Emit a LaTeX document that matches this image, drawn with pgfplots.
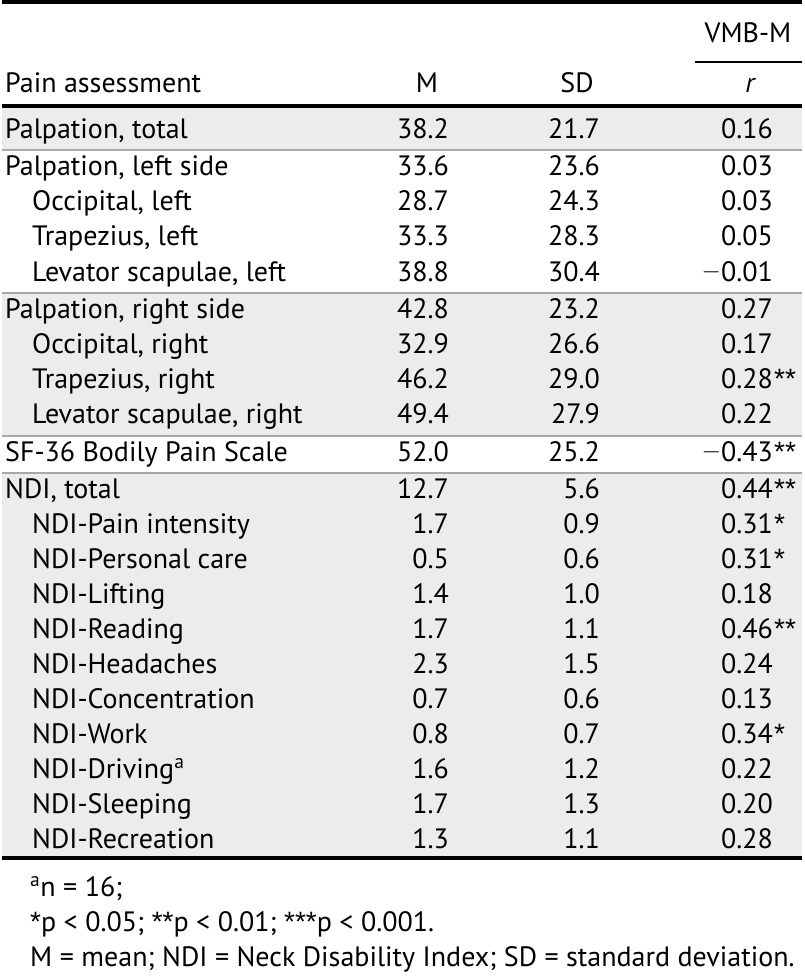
\documentclass[border=0pt]{standalone}
\usepackage{fontspec}
\setmainfont{PT Sans}
\newfontfamily\starfont{Liberation Sans}
\usepackage{pgfplots}
\usepackage{pgfplotstable}
\pgfplotsset{compat=1.18}
\definecolor{band}{HTML}{ECECEC}
\definecolor{sep}{HTML}{A8A8A8}
\newcommand\fs{\fontsize{28}{33}\selectfont}
\newcommand\st[1]{{\starfont #1}}
\newcommand\mns{\raisebox{0.09em}{$-$}}

\pgfplotstableread[col sep=semicolon,row sep=\\]{
y;x;label;m;sd;r\\
138;3;Palpation, total;38.2;21.7;0.16\\
175;3;Palpation, left side;33.6;23.6;0.03\\
210;30;Occipital, left;28.7;24.3;0.03\\
245;30;Trapezius, left;33.3;28.3;0.05\\
281;30;Levator scapulae, left;38.8;30.4;\mns0.01\\
318;3;Palpation, right side;42.8;23.2;0.27\\
353;30;Occipital, right;32.9;26.6;0.17\\
388;30;Trapezius, right;46.2;29.0;0.28\\
423;30;Levator scapulae, right;49.4;27.9;0.22\\
461;3;SF-36 Bodily Pain Scale;52.0;25.2;\mns0.43\\
498;3;NDI, total;12.7;5.6;0.44\\
533;30;NDI-Pain intensity;1.7;0.9;0.31\\
568;30;NDI-Personal care;0.5;0.6;0.31\\
603;30;NDI-Lifting;1.4;1.0;0.18\\
638;30;NDI-Reading;1.7;1.1;0.46\\
673;30;NDI-Headaches;2.3;1.5;0.24\\
708;30;NDI-Concentration;0.7;0.6;0.13\\
743;30;NDI-Work;0.8;0.7;0.34\\
778;30;NDI-Driving\textsuperscript{a};1.6;1.2;0.22\\
813;30;NDI-Sleeping;1.7;1.3;0.20\\
848;30;NDI-Recreation;1.3;1.1;0.28\\
}\rows

\pgfplotstableread[col sep=semicolon,row sep=\\]{
y;st\\
388;**\\
461;**\\
498;**\\
533;*\\
568;*\\
638;**\\
743;*\\
}\stars

\begin{document}
\begin{tikzpicture}
\begin{axis}[
  scale only axis, width=800pt, height=977pt,
  xmin=0, xmax=800, ymin=0, ymax=977, y dir=reverse,
  hide axis, clip=false,
  every node near coord/.append style={font=\fs, inner sep=0pt, text=black},
]
% page frame
\addplot[draw=none] coordinates {(0,0) (800,977)};
% bands
\addplot[fill=band, draw=none] coordinates {(0,107) (800,107) (800,150) (0,150)} -- cycle;
\addplot[fill=band, draw=none] coordinates {(0,293) (800,293) (800,436) (0,436)} -- cycle;
\addplot[fill=band, draw=none] coordinates {(0,473) (800,473) (800,858) (0,858)} -- cycle;
% separators
\addplot[sep, line width=1.6pt] coordinates {(0,150) (800,150)};
\addplot[sep, line width=1.6pt] coordinates {(0,293) (800,293)};
\addplot[sep, line width=1.6pt] coordinates {(0,436) (800,436)};
\addplot[sep, line width=1.6pt] coordinates {(0,473) (800,473)};
% black rules
\addplot[black, line width=4pt] coordinates {(0,2) (800,2)};
\addplot[black, line width=1.2pt] coordinates {(693,62) (800,62)};
\addplot[black, line width=3.5pt] coordinates {(0,106) (800,106)};
\addplot[black, line width=3.5pt] coordinates {(0,858) (800,858)};
% text columns
\addplot[draw=none, mark=none, nodes near coords, point meta=explicit symbolic,
  every node near coord/.append style={anchor=base west}]
  table[x=x, y=y, meta=label]{\rows};
\addplot[draw=none, mark=none, nodes near coords, point meta=explicit symbolic,
  every node near coord/.append style={anchor=base east}]
  table[x expr=447, y=y, meta=m]{\rows};
\addplot[draw=none, mark=none, nodes near coords, point meta=explicit symbolic,
  every node near coord/.append style={anchor=base east}]
  table[x expr=598, y=y, meta=sd]{\rows};
\addplot[draw=none, mark=none, nodes near coords, point meta=explicit symbolic,
  every node near coord/.append style={anchor=base east}]
  table[x expr=771, y=y, meta=r]{\rows};
\addplot[draw=none, mark=none, nodes near coords, point meta=explicit symbolic,
  every node near coord/.append style={anchor=base west, font=\fs\starfont}]
  table[x expr=772, y=y, meta=st]{\stars};
% header
\node[font=\fs, anchor=base, inner sep=0pt] at (axis cs:746,42) {VMB-M};
\node[font=\fs, anchor=base west, inner sep=0pt] at (axis cs:3,92) {Pain assessment};
\node[font=\fs, anchor=base, inner sep=0pt] at (axis cs:425,92) {M};
\node[font=\fs, anchor=base, inner sep=0pt] at (axis cs:575,92) {SD};
\node[font=\fs, anchor=base, inner sep=0pt] at (axis cs:748,92) {\itshape r};
% footnotes
\node[font=\fs, anchor=base west, inner sep=0pt] at (axis cs:28,896) {\textsuperscript{a}n = 16;};
\node[font=\fs, anchor=base west, inner sep=0pt] at (axis cs:28,931) {\st{*}p < 0.05; \st{**}p < 0.01; \st{***}p < 0.001.};
\node[font=\fs, anchor=base west, inner sep=0pt] at (axis cs:28,966) {M = mean; NDI = Neck Disability Index; SD = standard deviation.};
\end{axis}
\end{tikzpicture}
\end{document}
